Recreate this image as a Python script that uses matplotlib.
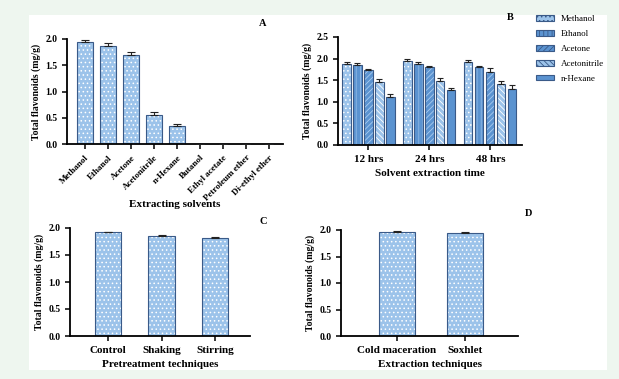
import numpy as np
import matplotlib
matplotlib.use("Agg")
import matplotlib.pyplot as plt
from matplotlib.patches import Rectangle

# Panel A - extracting solvents
solvents = ["Methanol", "Ethanol", "Acetone", "Acetonitrile", "n-Hexane",
            "Butanol", "Ethyl acetate", "Petroleum ether", "Di-ethyl ether"]
solvent_vals = [1.94, 1.87, 1.70, 0.56, 0.34, 0, 0, 0, 0]
solvent_err = [0.04, 0.05, 0.05, 0.05, 0.04, 0, 0, 0, 0]

# Panel B - extraction time
times = ["12 hrs", "24 hrs", "48 hrs"]
time_solvents = ["Methanol", "Ethanol", "Acetone", "Acetonitrile", "n-Hexane"]
methanol_t = [1.88, 1.94, 1.92]
ethanol_t = [1.85, 1.88, 1.81]
acetone_t = [1.74, 1.80, 1.70]
acetonitrile_t = [1.45, 1.48, 1.42]
hexane_t = [1.12, 1.28, 1.29]
methanol_e = [0.05, 0.05, 0.04]
ethanol_e = [0.05, 0.05, 0.02]
acetone_e = [0.02, 0.02, 0.08]
acetonitrile_e = [0.07, 0.06, 0.05]
hexane_e = [0.05, 0.03, 0.09]

# Panel C - pretreatment
pretreat = ["Control", "Shaking", "Stirring"]
pretreat_vals = [1.92, 1.85, 1.82]
pretreat_err = [0.01, 0.02, 0.02]

# Panel D - extraction technique
techniques = ["Cold maceration", "Soxhlet"]
tech_vals = [1.97, 1.95]
tech_err = [0.01, 0.02]

plt.rcParams["font.family"] = ["Liberation Serif", "DejaVu Serif"]
plt.rcParams["hatch.linewidth"] = 0.6

LIGHT = "#9cc3ea"
MID = "#5b93d0"
EDGE = "#3a5a88"
W = 619
H = 379


def px_axes(fig, x0, x1, y0, y1):
    """Axes from pixel box (y measured from top)."""
    ax = fig.add_axes([x0 / W, 1 - y1 / H, (x1 - x0) / W, (y1 - y0) / H])
    ax.set_facecolor("none")
    return ax


def style(ax, ylabel, xlabel, ymax, step):
    for s in ["top", "right"]:
        ax.spines[s].set_visible(False)
    for s in ["left", "bottom"]:
        ax.spines[s].set_linewidth(1.3)
    ax.set_ylim(0, ymax)
    ax.set_yticks(np.arange(0, ymax + 0.01, step))
    ax.yaxis.set_major_formatter(matplotlib.ticker.FormatStrFormatter("%.1f"))
    ax.tick_params(width=1.1, length=3.5, labelsize=7)
    for lab in ax.get_yticklabels() + ax.get_xticklabels():
        lab.set_fontweight("bold")
    ax.set_ylabel(ylabel, fontsize=7, fontweight="bold", labelpad=3)
    ax.set_xlabel(xlabel, fontsize=8, fontweight="bold")


def hbar(ax, x, vals, width, color, hatch, hcolor="white", label=None):
    # hatched fill first (hatch takes the edge colour), then the outline
    ax.bar(x, vals, width, color=color, edgecolor=hcolor, linewidth=0,
           hatch=hatch, zorder=2)
    ax.bar(x, vals, width, fill=False, edgecolor=EDGE, linewidth=0.8, zorder=2.5)
    if label is not None:
        ax.bar(x, np.zeros(len(vals)), width, color=color, edgecolor=EDGE, hatch=hatch,
               linewidth=0.8, label=label)


def ebar(ax, x, vals, err, cap):
    ax.errorbar(x, vals, yerr=[np.zeros(len(vals)), err], fmt="none",
                ecolor="#222222", elinewidth=0.8, capsize=cap, capthick=0.8, zorder=3)


fig = plt.figure(figsize=(6.19, 3.79), dpi=100)
fig.patch.set_facecolor("#eef6ef")
panel = Rectangle((29 / W, 1 - 370 / H), 578 / W, 355 / H,
                  transform=fig.transFigure, facecolor="white",
                  edgecolor="none", zorder=-10)
fig.patches.append(panel)

# A
axA = px_axes(fig, 67, 283, 39, 144)
xa = np.arange(len(solvents))
hbar(axA, xa, solvent_vals, 0.7, LIGHT, "....")
ebar(axA, xa, solvent_vals, solvent_err, 3)
axA.set_xlim(-0.78, 8.6)
axA.set_xticks(xa)
axA.set_xticklabels(solvents, rotation=45, ha="right", rotation_mode="anchor")
style(axA, "Total flavonoids (mg/g)", "Extracting solvents", 2.0, 0.5)
axA.tick_params(axis="x", labelsize=6.5)
axA.xaxis.set_label_coords(0.5, -0.53)
fig.text(263 / W, 1 - 24 / H, "A", fontsize=7.5, fontweight="bold", ha="center", va="center")

# B
axB = px_axes(fig, 338, 522, 37, 145)
xb = np.arange(len(times))
series = [methanol_t, ethanol_t, acetone_t, acetonitrile_t, hexane_t]
errs = [methanol_e, ethanol_e, acetone_e, acetonitrile_e, hexane_e]
colors = [LIGHT, MID, MID, LIGHT, MID]
hatches = ["....", "||||", "//////", "\\\\\\\\\\\\", ""]
hcols = ["white", "#8fb8e4", "#a9cbef", "white", MID]
bw = 0.135
for i, (vals, e) in enumerate(zip(series, errs)):
    off = (i - 2) * 0.18
    hbar(axB, xb + off, vals, bw, colors[i], hatches[i], hcols[i], label=time_solvents[i])
    ebar(axB, xb + off, vals, e, 2)
axB.set_xlim(-0.5, 2.52)
axB.set_xticks(xb)
axB.set_xticklabels(times)
style(axB, "Total flavonoids (mg/g)", "Solvent extraction time", 2.5, 0.5)
axB.tick_params(axis="x", labelsize=8)
axB.legend(loc="upper left", bbox_to_anchor=(1.03, 1.275), frameon=False, fontsize=6.5,
           handlelength=2.0, handleheight=0.6, labelspacing=0.75)
fig.text(510 / W, 1 - 17 / H, "B", fontsize=7.5, fontweight="bold", ha="center", va="center")

# C
axC = px_axes(fig, 70, 250, 228, 336)
xc = np.arange(len(pretreat))
hbar(axC, xc, pretreat_vals, 0.49, LIGHT, "....")
ebar(axC, xc, pretreat_vals, pretreat_err, 3)
axC.set_xlim(-0.71, 2.65)
axC.set_xticks(xc)
axC.set_xticklabels(pretreat)
style(axC, "Total flavonoids (mg/g)", "Pretreatment techniques", 2.0, 0.5)
axC.tick_params(axis="x", labelsize=8)
fig.text(263 / W, 1 - 221 / H, "C", fontsize=7.5, fontweight="bold", ha="center", va="center")

# D
axD = px_axes(fig, 341, 518, 230, 336)
xd = np.arange(len(techniques))
hbar(axD, xd, tech_vals, 0.53, LIGHT, "....")
ebar(axD, xd, tech_vals, tech_err, 3)
axD.set_xlim(-0.82, 1.78)
axD.set_xticks(xd)
axD.set_xticklabels(techniques)
style(axD, "Total flavonoids (mg/g)", "Extraction techniques", 2.0, 0.5)
axD.tick_params(axis="x", labelsize=8)
fig.text(529 / W, 1 - 213 / H, "D", fontsize=7.5, fontweight="bold", ha="center", va="center")

fig.savefig("out.png", dpi=100, facecolor=fig.get_facecolor())
